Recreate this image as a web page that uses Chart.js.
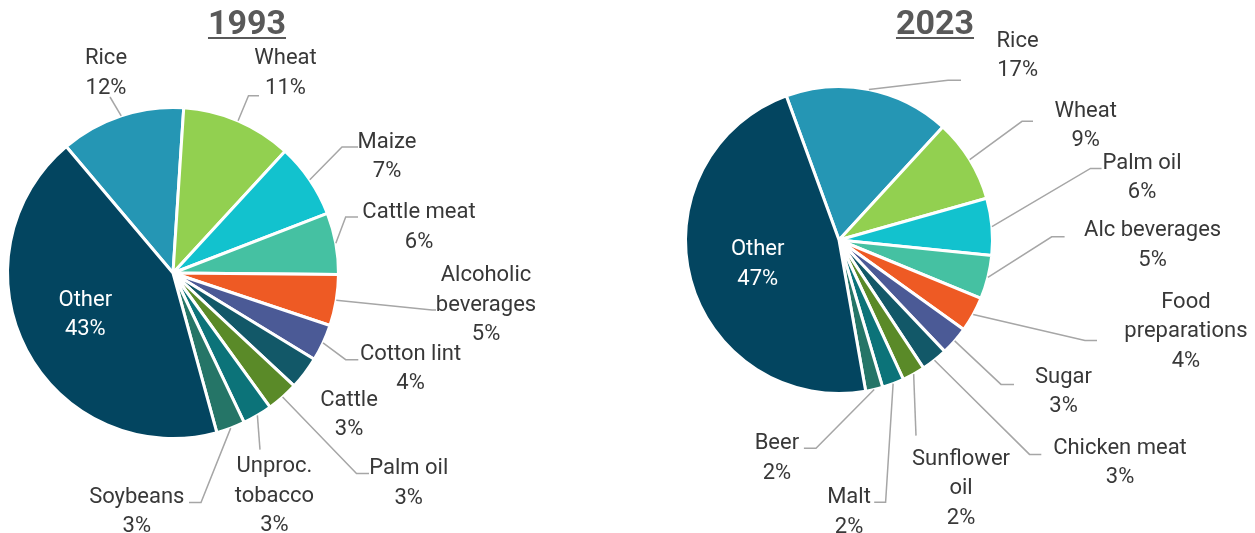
<!DOCTYPE html>
<html>
<head>
<meta charset="utf-8">
<script src="https://cdn.jsdelivr.net/npm/chart.js@4"></script>
<style>
  html, body { margin: 0; padding: 0; background: #ffffff; }
  #wrap { position: relative; width: 1255px; height: 533px; overflow: hidden; }
  canvas { position: absolute; top: 0; }
  .ttl {
    position: absolute; top: 2px; width: 240px; text-align: center;
    font-family: Roboto, "Liberation Sans", sans-serif; font-weight: bold;
    font-size: 34px; line-height: 40px; color: #595959;
    text-decoration: underline; text-decoration-thickness: 2px; text-underline-offset: 3px;
  }
</style>
</head>
<body>
<div id="wrap">
  <canvas id="c1993" width="627" height="533" style="left:0"></canvas>
  <canvas id="c2023" width="628" height="533" style="left:627px"></canvas>
  <div class="ttl" id="t1993" style="left:127px"></div>
  <div class="ttl" id="t2023" style="left:815px"></div>
</div>
<script>
// Share of value by commodity, two years
const years = ['1993', '2023'];

const categories1993 = [['Rice'], ['Wheat'], ['Maize'], ['Cattle meat'], ['Alcoholic', 'beverages'],
  ['Cotton lint'], ['Cattle'], ['Palm oil'], ['Unproc.', 'tobacco'], ['Soybeans'], ['Other']];
const shares1993 = [12.2, 10.8, 7.3, 6.0, 5.0, 3.6, 3.2, 3.1, 2.9, 2.8, 43.1];

const categories2023 = [['Rice'], ['Wheat'], ['Palm oil'], ['Alc beverages'], ['Food', 'preparations'],
  ['Sugar'], ['Chicken meat'], ['Sunflower', 'oil'], ['Malt'], ['Beer'], ['Other']];
const shares2023 = [17.4, 8.8, 6.0, 4.6, 3.7, 3.0, 2.8, 2.4, 2.3, 1.8, 47.2];

const sliceColors = ['#2596b4', '#92d050', '#12c2ce', '#45c1a2', '#ee5a24',
  '#4b5a96', '#125868', '#5a8a28', '#0c7379', '#257567', '#034560'];

// Label placement, px from the pie centre: [textX, textY, elbowX, elbowY, endX, endY]
const labelLayout1993 = [
  [-67, -202, -63, -176, -63, -176],
  [112.5, -202, 75.5, -177.3, 86, -177.3],
  [214, -118.5, 169, -126, 185, -126],
  [246, -48, 172.7, -56, 185, -56],
  [313, 29.6, 259, 37, 263, 37],
  [237.5, 93.5, 172.7, 86.7, 185.3, 86.7],
  [176, 139.5],
  [235.7, 208.2, 183.5, 200.5, 196, 200.5],
  [101.4, 221, 87, 176.6, 87, 176.6],
  [-36.2, 236.4, 28, 229.6, 16, 229.6],
  [-87.7, 39.5]
];
const labelLayout2023 = [
  [178.6, -186.2, 109, -159.7, 122, -159.7],
  [246.7, -116.5, 183, -118.7, 194, -118.7],
  [303, -64.4, 251.5, -71.6, 262.6, -71.6],
  [313.6, 3.1, 212.7, -3.2, 225.6, -3.2],
  [346.9, 89.4, 246, 100.6, 258, 100.6],
  [224.5, 149.5, 162, 144.4, 175, 144.4],
  [281, 220.4, 190.5, 214.4, 202.3, 214.4],
  [122, 246.4, 77, 195.6, 77, 195.6],
  [10, 269.9, 46.6, 262.2, 35.2, 262.2],
  [-62.1, 216.1, -23, 208.2, -35.1, 208.2],
  [-81.3, 21.9]
];

const FONT_FAMILY = 'Roboto, "Liberation Sans", sans-serif';
const FONT_SIZE = 22;
const LINE_H = 29.5;

// Draws the category / percent labels and their leader lines
const pieLabels = {
  id: 'pieLabels',
  afterDatasetsDraw(chart, args, opts) {
    const ctx = chart.ctx;
    const meta = chart.getDatasetMeta(0);
    const labels = chart.data.labels;
    const values = chart.data.datasets[0].data;
    meta.data.forEach((arc, i) => {
      const p = arc.getProps(['x', 'y', 'startAngle', 'endAngle', 'outerRadius'], true);
      const lay = opts.layout[i];
      const cx = p.x, cy = p.y;
      const mid = (p.startAngle + p.endAngle) / 2;
      if (lay.length > 2) {
        const ax = cx + Math.cos(mid) * p.outerRadius;
        const ay = cy + Math.sin(mid) * p.outerRadius;
        ctx.save();
        ctx.strokeStyle = '#a6a6a6';
        ctx.lineWidth = 1.5;
        ctx.beginPath();
        ctx.moveTo(ax, ay);
        ctx.lineTo(cx + lay[2], cy + lay[3]);
        ctx.lineTo(cx + lay[4], cy + lay[5]);
        ctx.stroke();
        ctx.restore();
      }
      const lines = labels[i].concat([Math.round(values[i]) + '%']);
      const tx = cx + lay[0];
      const top = cy + lay[1] - (lines.length - 1) * LINE_H / 2;
      ctx.save();
      ctx.font = FONT_SIZE + 'px ' + FONT_FAMILY;
      ctx.fillStyle = opts.inside[i] ? '#ffffff' : '#383838';
      ctx.textAlign = 'center';
      ctx.textBaseline = 'alphabetic';
      lines.forEach((s, k) => {
        ctx.fillText(s, tx, top + k * LINE_H + FONT_SIZE * 0.36);
      });
      ctx.restore();
    });
  }
};

function makePie(id, labels, values, rotation, padding, layout) {
  return new Chart(document.getElementById(id), {
    type: 'pie',
    data: {
      labels: labels,
      datasets: [{
        data: values,
        backgroundColor: sliceColors,
        borderColor: '#ffffff',
        borderWidth: 3,
        hoverOffset: 0
      }]
    },
    options: {
      responsive: false,
      animation: false,
      events: [],
      rotation: rotation,
      layout: { padding: padding },
      plugins: {
        legend: { display: false },
        tooltip: { enabled: false },
        pieLabels: {
          layout: layout,
          inside: labels.map((l, i) => i === labels.length - 1)
        }
      }
    },
    plugins: [pieLabels]
  });
}

document.getElementById('t1993').textContent = years[0];
document.getElementById('t2023').textContent = years[1];

makePie('c1993', categories1993, shares1993, -40.2,
  { left: 6, right: 287, top: 106, bottom: 93 }, labelLayout1993);
makePie('c2023', categories2023, shares2023, -20.1,
  { left: 57, right: 261, top: 85, bottom: 138 }, labelLayout2023);
</script>
</body>
</html>
